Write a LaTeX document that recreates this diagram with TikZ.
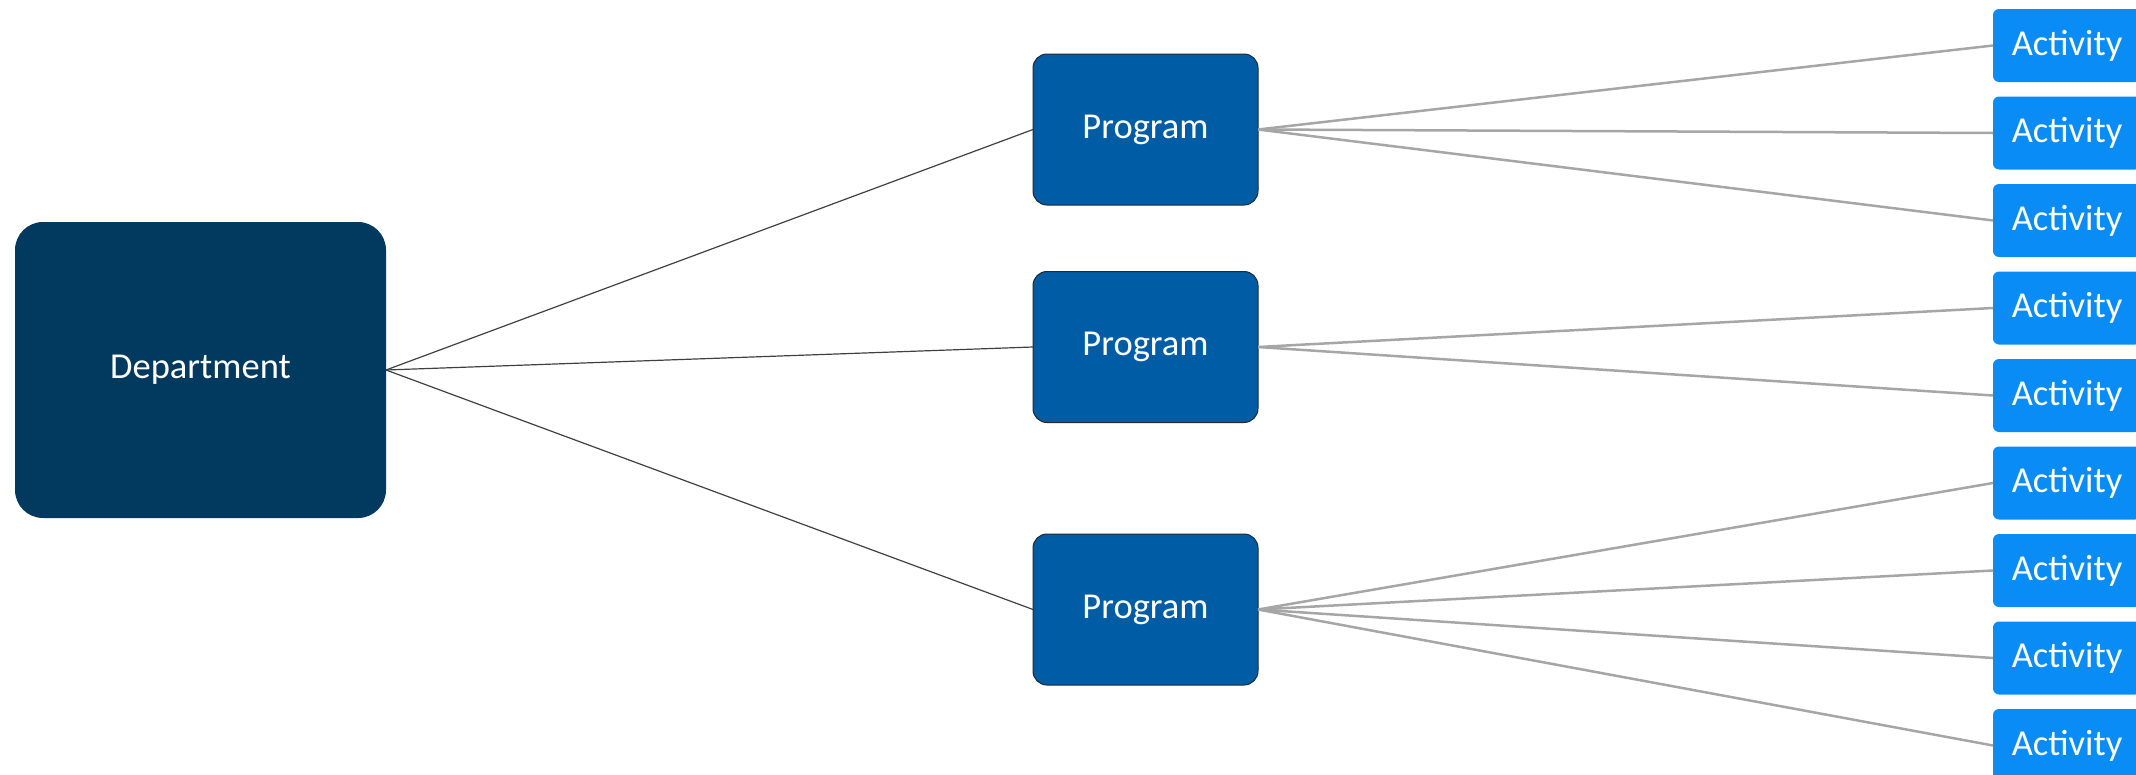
\documentclass[tikz,border=0pt]{standalone}
\usepackage{fontspec}
\setmainfont{Carlito}
\definecolor{deptc}{HTML}{02395F}
\definecolor{progc}{HTML}{005CA5}
\definecolor{actc}{HTML}{0A8CF7}
\definecolor{progline}{HTML}{1E2A36}
\definecolor{conn}{HTML}{A6A6A6}
\begin{document}
\begin{tikzpicture}[x=1pt,y=-1pt,
  every node/.style={inner sep=0pt, outer sep=0pt, text=white, font=\fontsize{36.5}{40}\selectfont},
  dept/.style={rectangle, rounded corners=28pt, fill=deptc, minimum width=371pt, minimum height=296pt},
  prog/.style={rectangle, rounded corners=14pt, fill=progc, draw=progline, line width=1pt, minimum width=225pt, minimum height=151pt},
  act/.style={rectangle, rounded corners=6pt, fill=actc, minimum width=148pt, minimum height=73pt},
  dline/.style={draw=black!75, line width=1.2pt},
  aline/.style={draw=conn, line width=2.5pt}]
\useasboundingbox (0,0) rectangle (2136,774);
\clip (0,0) rectangle (2136,774);
\node[dept] (d) at (200.5,370) {\raisebox{-2pt}{Department}};
\node[prog] (p1) at (1145.5,129.5) {\raisebox{-2pt}{Program}};
\node[prog] (p2) at (1145.5,347) {\raisebox{-2pt}{Program}};
\node[prog] (p3) at (1145.5,609.5) {\raisebox{-2pt}{Program}};
\foreach \i/\y in {1/45.5,2/133,3/220.5,4/308,5/395.5,6/483,7/570.5,8/658,9/745.5}
  \node[act] (a\i) at (2067,\y) {\raisebox{-2pt}{Activity}};
\foreach \p in {p1,p2,p3}
  \draw[dline] (d.east) -- (\p.west);
\foreach \a in {a1,a2,a3} \draw[aline] (p1.east) -- (\a.west);
\foreach \a in {a4,a5} \draw[aline] (p2.east) -- (\a.west);
\foreach \a in {a6,a7,a8,a9} \draw[aline] (p3.east) -- (\a.west);
\end{tikzpicture}
\end{document}
